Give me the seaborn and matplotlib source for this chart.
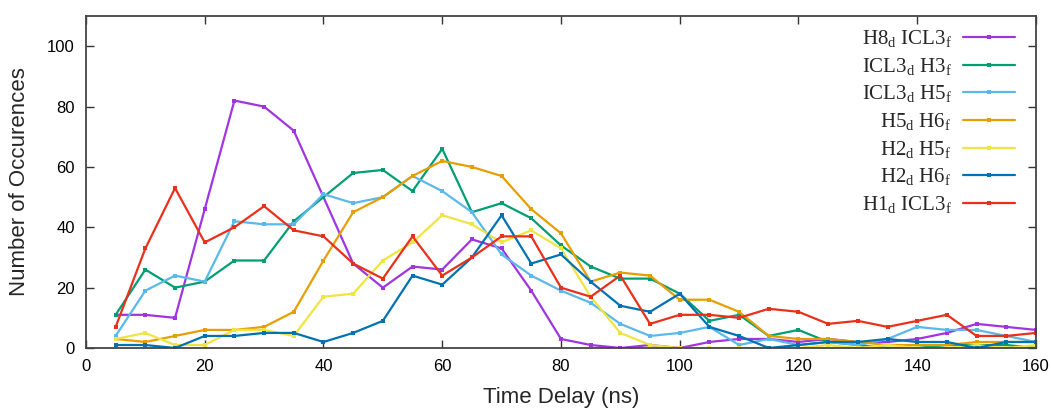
import pandas as pd
import seaborn as sns
import matplotlib.pyplot as plt

# time delay bins (ns)
time_delay = list(range(5, 165, 5))

h8_icl3 = [11, 11, 10, 46, 82, 80, 72, 50, 28, 20, 27, 26, 36, 33, 19, 3,
           1, 0, 1, 0, 2, 3, 3, 2, 3, 2, 2, 3, 5, 8, 7, 6]
icl3_h3 = [11, 26, 20, 22, 29, 29, 42, 50, 58, 59, 52, 66, 45, 48, 43, 34,
           27, 23, 23, 18, 9, 11, 4, 6, 2, 1, 0, 0, 1, 1, 1, 0]
icl3_h5 = [4, 19, 24, 22, 42, 41, 41, 51, 48, 50, 57, 52, 45, 31, 24, 19,
           15, 8, 4, 5, 7, 1, 3, 1, 2, 1, 3, 7, 6, 6, 4, 2]
h5_h6 = [3, 2, 4, 6, 6, 7, 12, 29, 45, 50, 57, 62, 60, 57, 46, 38,
         22, 25, 24, 16, 16, 12, 4, 3, 3, 2, 1, 1, 1, 2, 2, 2]
h2_h5 = [3, 5, 1, 1, 6, 6, 4, 17, 18, 29, 35, 44, 41, 35, 39, 33,
         17, 5, 1, 0, 0, 0, 0, 0, 1, 0, 1, 0, 0, 1, 0, 1]
h2_h6 = [1, 1, 0, 4, 4, 5, 5, 2, 5, 9, 24, 21, 30, 44, 28, 31,
         22, 14, 12, 18, 7, 4, 0, 1, 2, 2, 3, 2, 2, 0, 2, 2]
h1_icl3 = [7, 33, 53, 35, 40, 47, 39, 37, 28, 23, 37, 24, 30, 37, 37, 20,
           17, 24, 8, 11, 11, 10, 13, 12, 8, 9, 7, 9, 11, 4, 4, 5]

labels = [r'H8$_\mathrm{d}$ ICL3$_\mathrm{f}$',
          r'ICL3$_\mathrm{d}$ H3$_\mathrm{f}$',
          r'ICL3$_\mathrm{d}$ H5$_\mathrm{f}$',
          r'H5$_\mathrm{d}$ H6$_\mathrm{f}$',
          r'H2$_\mathrm{d}$ H5$_\mathrm{f}$',
          r'H2$_\mathrm{d}$ H6$_\mathrm{f}$',
          r'H1$_\mathrm{d}$ ICL3$_\mathrm{f}$']
series = [h8_icl3, icl3_h3, icl3_h5, h5_h6, h2_h5, h2_h6, h1_icl3]
colors = ['#a035e0', '#009e73', '#5ab9ea', '#e69f00', '#f0e442', '#0072b2', '#e8301a']

# long format for seaborn
rows = []
for lab, vals in zip(labels, series):
    for t, v in zip(time_delay, vals):
        rows.append({'Time Delay (ns)': t, 'Count': v, 'Pair': lab})
df = pd.DataFrame(rows)

sns.set_style('ticks')
plt.rcParams['font.family'] = ['Liberation Sans', 'DejaVu Sans']
plt.rcParams['mathtext.fontset'] = 'custom'
plt.rcParams['mathtext.rm'] = 'Liberation Serif'

fig = plt.figure(figsize=(10.51, 4.12), dpi=100)
ax = fig.add_axes([0.0818, 0.1553, 0.9039, 0.8057])

sns.lineplot(data=df, x='Time Delay (ns)', y='Count', hue='Pair', hue_order=labels,
             palette=colors, marker='s', markersize=3.5, markeredgewidth=0,
             linewidth=1.6, ax=ax, legend=True)

ax.set_xlim(0, 160)
ax.set_ylim(0, 110)
ax.set_xticks(range(0, 161, 20))
ax.set_yticks(range(0, 101, 20))
ax.tick_params(direction='in', length=6, width=1, labelsize=12, colors='#333333',
               top=True, right=True, pad=8)
ax.tick_params(labelcolor='black')
for s in ax.spines.values():
    s.set_linewidth(1.3)
    s.set_color('#444444')

ax.set_xlabel('Time Delay (ns)', fontsize=16, labelpad=9)
ax.set_ylabel('Number of Occurences', fontsize=16, labelpad=12)

handles, labs = ax.get_legend_handles_labels()
ax.legend(handles, labs, loc='upper right', bbox_to_anchor=(0.978, 0.963),
          borderaxespad=0, borderpad=0, frameon=False, markerfirst=False,
          handlelength=2.5, handletextpad=0.55, labelspacing=0.29,
          prop={'family': 'Liberation Serif', 'size': 15})

plt.savefig('out.png', dpi=100)
